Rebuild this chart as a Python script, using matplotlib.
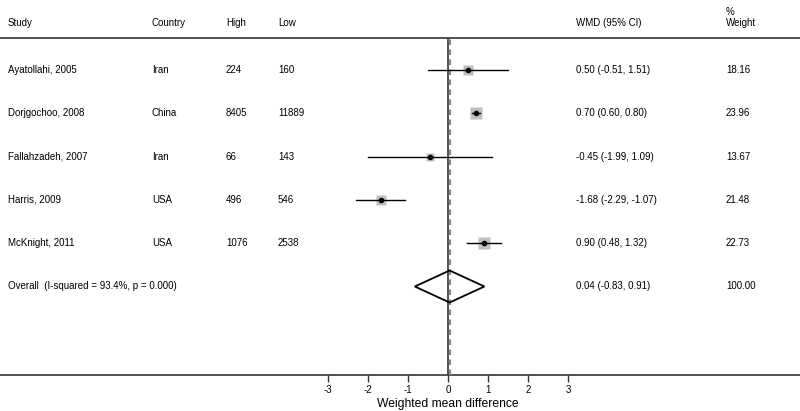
import matplotlib
matplotlib.use("Agg")
import matplotlib.pyplot as plt
import numpy as np
from matplotlib.patches import Polygon

studies = ["Ayatollahi, 2005", "Dorjgochoo, 2008", "Fallahzadeh, 2007", "Harris, 2009", "McKnight, 2011"]
countries = ["Iran", "China", "Iran", "USA", "USA"]
high = ["224", "8405", "66", "496", "1076"]
low = ["160", "11889", "143", "546", "2538"]
wmd = [0.50, 0.70, -0.45, -1.68, 0.90]
lo = [-0.51, 0.60, -1.99, -2.29, 0.48]
hi = [1.51, 0.80, 1.09, -1.07, 1.32]
weight = [18.16, 23.96, 13.67, 21.48, 22.73]
overall_label = "Overall  (I-squared = 93.4%, p = 0.000)"
overall = [0.04, -0.83, 0.91]
ticks = [-3, -2, -1, 0, 1, 2, 3]

plt.rcParams['font.family'] = ['Liberation Sans', 'DejaVu Sans']
W, H = 800, 411
fig = plt.figure(figsize=(8, 4.11), dpi=100)
top_px, bot_px = 38, 375
ax = fig.add_axes([0, (H - bot_px) / H, 1, (bot_px - top_px) / H])
px_per_unit = 40.0
zero_px = 448
ax.set_xlim((0 - zero_px) / px_per_unit, (W - zero_px) / px_per_unit)
row_h = 43.3
def row_of(py):
    return 1 + (py - 70) / row_h
ax.set_ylim(row_of(bot_px), row_of(top_px))

for s in ["left", "right"]:
    ax.spines[s].set_visible(False)
ax.spines["top"].set_linewidth(1.2)
ax.spines["bottom"].set_linewidth(1.2)
ax.spines["top"].set_color("#333333")
ax.spines["bottom"].set_color("#333333")
ax.set_yticks([])
ax.set_xticks(ticks)
ax.set_xticklabels([str(t) for t in ticks], fontsize=7)
ax.tick_params(axis="x", direction="out", length=5, width=1, pad=2, color="#333333")

ymin, ymax = ax.get_ylim()
ax.plot([0, 0], [ymin, ymax], color="#333333", lw=1.2, zorder=2)
ax.plot([overall[0], overall[0]], [ymin, ymax], color="#888888", lw=1.6, ls=(0, (2.5, 2)), zorder=3)

rows = np.arange(1, len(studies) + 1)
for i, r in enumerate(rows):
    side_px = 2.35 * np.sqrt(weight[i])
    ax.plot(wmd[i], r, marker="s", ms=side_px * 0.72, color="#bfbfbf", mec="none", zorder=4)
    ax.plot([lo[i], hi[i]], [r, r], color="black", lw=1.0, zorder=5)
    ax.plot(wmd[i], r, marker="o", ms=3, color="black", zorder=6)

r_ov = len(studies) + 1
half = 16 / row_h
diamond = Polygon([[overall[1], r_ov], [overall[0], r_ov - half], [overall[2], r_ov], [overall[0], r_ov + half]],
                  closed=True, fill=False, edgecolor="black", lw=1.3, zorder=6)
ax.add_patch(diamond)

def xf(px):
    return px / W
fs = 7
ytr = ax.get_yaxis_transform()
col_x = {"study": 8, "country": 152, "high": 226, "low": 278, "wmd": 576, "weight": 726}
for i, r in enumerate(rows):
    ax.text(xf(col_x["study"]), r, studies[i], transform=ytr, fontsize=fs, va="center", ha="left")
    ax.text(xf(col_x["country"]), r, countries[i], transform=ytr, fontsize=fs, va="center", ha="left")
    ax.text(xf(col_x["high"]), r, high[i], transform=ytr, fontsize=fs, va="center", ha="left")
    ax.text(xf(col_x["low"]), r, low[i], transform=ytr, fontsize=fs, va="center", ha="left")
    ax.text(xf(col_x["wmd"]), r, f"{wmd[i]:.2f} ({lo[i]:.2f}, {hi[i]:.2f})", transform=ytr, fontsize=fs, va="center", ha="left")
    ax.text(xf(col_x["weight"]), r, f"{weight[i]:.2f}", transform=ytr, fontsize=fs, va="center", ha="left")

ax.text(xf(col_x["study"]), r_ov, overall_label, transform=ytr, fontsize=fs, va="center", ha="left")
ax.text(xf(col_x["wmd"]), r_ov, f"{overall[0]:.2f} ({overall[1]:.2f}, {overall[2]:.2f})", transform=ytr, fontsize=fs, va="center", ha="left")
ax.text(xf(col_x["weight"]), r_ov, "100.00", transform=ytr, fontsize=fs, va="center", ha="left")

hdr_y = row_of(23)
for key, lab in [("study", "Study"), ("country", "Country"), ("high", "High"), ("low", "Low"), ("wmd", "WMD (95% CI)"), ("weight", "Weight")]:
    ax.text(xf(col_x[key]), hdr_y, lab, transform=ytr, fontsize=fs, va="center", ha="left", clip_on=False)
ax.text(xf(col_x["weight"]), row_of(12), "%", transform=ytr, fontsize=fs, va="center", ha="left", clip_on=False)

ax.text(0, row_of(404), "Weighted mean difference", fontsize=8.7, ha="center", va="center", clip_on=False)

fig.savefig("out.png", dpi=100, facecolor="white")
